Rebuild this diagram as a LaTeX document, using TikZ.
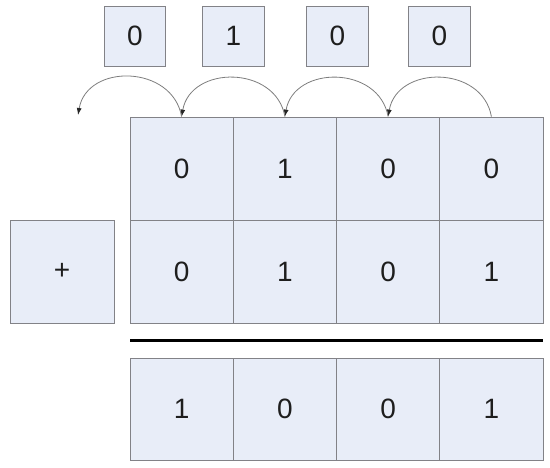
\documentclass[tikz,border=0pt]{standalone}
\usepackage{fontspec}
\setmainfont{Liberation Sans}
\usetikzlibrary{arrows.meta}
\definecolor{cellfill}{RGB}{232,237,248}
\definecolor{cellborder}{RGB}{130,130,135}
\definecolor{arcgray}{RGB}{125,125,125}
\definecolor{txt}{RGB}{30,30,30}
\newcommand{\digitsize}{\fontsize{28pt}{32pt}\selectfont}
\begin{document}
\begin{tikzpicture}[x=1pt,y=-1pt,
  cell/.style={draw=cellborder, fill=cellfill, line width=0.8pt, inner sep=0pt,
    minimum width=103.25pt, minimum height=103pt, text=txt, font=\digitsize},
  carrybox/.style={cell, minimum width=61.5pt, minimum height=60pt},
  carryarc/.style={draw=arcgray, line width=0.8pt, -{Latex[length=7pt,width=5pt,color=black!85]},
    out=100, in=80, looseness=1.3}]
\useasboundingbox (0,0) rectangle (550,468);
% carry boxes
\node[carrybox] (k0) at (135,36) {0};
\node[carrybox] (k1) at (233.5,36) {1};
\node[carrybox] (k2) at (337.5,36) {0};
\node[carrybox] (k3) at (439.5,36) {0};
% first operand
\node[cell] (a0) at (181.6,168.5) {0};
\node[cell] (a1) at (284.9,168.5) {1};
\node[cell] (a2) at (388.1,168.5) {0};
\node[cell] (a3) at (491.4,168.5) {0};
% second operand
\node[cell] (b0) at (181.6,271.5) {0};
\node[cell] (b1) at (284.9,271.5) {1};
\node[cell] (b2) at (388.1,271.5) {0};
\node[cell] (b3) at (491.4,271.5) {1};
% plus
\node[cell, minimum width=104pt] (plus) at (62,271.5) {+};
% rule
\coordinate (ruleL) at (130,341);
\coordinate (ruleR) at (543,341);
\draw[line width=3pt, black] (ruleL) -- (ruleR);
% result
\node[cell, minimum height=102pt] (r0) at (181.6,409) {1};
\node[cell, minimum height=102pt] (r1) at (284.9,409) {0};
\node[cell, minimum height=102pt] (r2) at (388.1,409) {0};
\node[cell, minimum height=102pt] (r3) at (491.4,409) {1};
% carry arcs
\coordinate (out) at (78,115);
\draw[carryarc] (a3.north) to (a2.north);
\draw[carryarc] (a2.north) to (a1.north);
\draw[carryarc] (a1.north) to (a0.north);
\draw[carryarc] (a0.north) to (out);
\end{tikzpicture}
\end{document}
